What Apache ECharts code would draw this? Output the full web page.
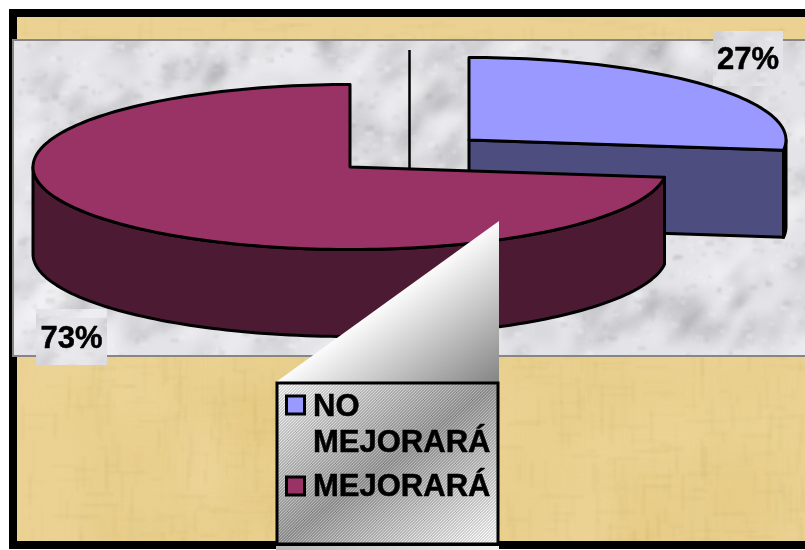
<!DOCTYPE html>
<html>
<head>
<meta charset="utf-8">
<style>html,body{margin:0;padding:0;background:#fff}#chart{width:805px;height:550px}</style>
<script src="https://cdn.jsdelivr.net/npm/echarts@6/dist/echarts.min.js"></script>
</head>
<body>
<div id="chart"></div>
<script>
// datos
const categories = ['NO MEJORARÁ', 'MEJORARÁ'];
const percentValues = [27, 73];
const topColors = ['#9999ff', '#993366'];
const sideColors = ['#4d4d80', '#4d1a33'];

// geometria del pastel 3D
const sliceCenters = [[469, 140], [350, 167]];
const labelBoxes = [[713, 31, 70, 55], [36, 309, 71, 56]];
const rx = 317, ry = 82.5, depth = 87;
const fontName = '"Liberation Sans", Arial, sans-serif';

// generador fijo, solo para las texturas de fondo
let seed = 12345;
function rnd() {
    seed = (seed * 16807) % 2147483647;
    return seed / 2147483647;
}

function makeMarble(w, h) {
    const c = document.createElement('canvas');
    c.width = w; c.height = h;
    const ctx = c.getContext('2d');
    ctx.fillStyle = '#e4e4e8';
    ctx.fillRect(0, 0, w, h);
    ctx.lineCap = 'round';
    // manchas grises agrupadas
    ctx.filter = 'blur(5px)';
    for (let k = 0; k < 190; k++) {
        const cx = rnd() * w, cy = rnd() * h;
        const count = 2 + Math.floor(rnd() * 5);
        for (let i = 0; i < count; i++) {
            const x = cx + (rnd() - 0.5) * 50, y = cy + (rnd() - 0.5) * 30;
            const len = 6 + rnd() * 30;
            const ang = -0.4 - rnd() * 1.0;
            const g = 130 + Math.floor(rnd() * 60);
            ctx.strokeStyle = 'rgba(' + g + ',' + g + ',' + (g + 3) + ',' + (0.12 + rnd() * 0.3) + ')';
            ctx.lineWidth = 3 + rnd() * 6;
            ctx.beginPath();
            ctx.moveTo(x, y);
            ctx.lineTo(x + Math.cos(ang) * len, y + Math.sin(ang) * len);
            ctx.stroke();
        }
    }
    // zonas claras
    ctx.filter = 'blur(6px)';
    for (let i = 0; i < 120; i++) {
        ctx.fillStyle = 'rgba(246,246,248,' + (0.3 + rnd() * 0.4) + ')';
        ctx.beginPath();
        ctx.ellipse(rnd() * w, rnd() * h, 10 + rnd() * 26, 4 + rnd() * 10, -0.8, 0, Math.PI * 2);
        ctx.fill();
    }
    // granulado fino
    ctx.filter = 'blur(1px)';
    for (let i = 0; i < 1400; i++) {
        const v = rnd() > 0.5 ? 250 : 170;
        ctx.fillStyle = 'rgba(' + v + ',' + v + ',' + v + ',' + (0.1 + rnd() * 0.22) + ')';
        ctx.fillRect(rnd() * w, rnd() * h, 2 + rnd() * 7, 2 + rnd() * 4);
    }
    ctx.filter = 'none';
    return c;
}

function makePaper(w, h) {
    const c = document.createElement('canvas');
    c.width = w; c.height = h;
    const ctx = c.getContext('2d');
    ctx.fillStyle = '#ebd293';
    ctx.fillRect(0, 0, w, h);
    ctx.filter = 'blur(12px)';
    for (let i = 0; i < 120; i++) {
        ctx.fillStyle = rnd() > 0.5 ? 'rgba(240,214,155,0.25)' : 'rgba(228,202,130,0.3)';
        ctx.fillRect(rnd() * w, rnd() * h, 30 + rnd() * 70, 30 + rnd() * 70);
    }
    ctx.filter = 'blur(1px)';
    for (let i = 0; i < 1500; i++) {
        const vert = rnd() > 0.45;
        const x = rnd() * w, y = rnd() * h, len = 6 + rnd() * 35;
        ctx.fillStyle = 'rgba(195,170,100,' + (0.05 + rnd() * 0.12) + ')';
        if (vert) ctx.fillRect(x, y, 2, len);
        else ctx.fillRect(x, y, len, 2);
    }
    ctx.filter = 'none';
    return c;
}

// degradado tramado de la caja de la leyenda
function makeLegendFill(w, h) {
    const c = document.createElement('canvas');
    c.width = w; c.height = h;
    const ctx = c.getContext('2d');
    const img = ctx.createImageData(w, h);
    for (let y = 0; y < h; y++) {
        for (let x = 0; x < w; x++) {
            const t = (x / w + y / h) / 2;
            let v = t < 0.5 ? 232 - (t / 0.5) * 82 : 150 + ((t - 0.5) / 0.5) * 90;
            v += (x + y) % 3 === 0 ? 26 : -13;
            const k = (y * w + x) * 4;
            img.data[k] = img.data[k + 1] = img.data[k + 2] = v;
            img.data[k + 3] = 255;
        }
    }
    ctx.putImageData(img, 0, 0);
    return c;
}

const marble = makeMarble(793, 318);
const paper = makePaper(788, 524);
const legendFill = makeLegendFill(223, 162);

function arcPoints(cx, cy, from, to) {
    const pts = [];
    const n = Math.max(2, Math.ceil(Math.abs(to - from) / 1.5));
    for (let i = 0; i <= n; i++) {
        const a = (from + (to - from) * i / n) * Math.PI / 180;
        pts.push([cx + rx * Math.sin(a), cy - ry * Math.cos(a)]);
    }
    return pts;
}

const total = percentValues.reduce((a, b) => a + b, 0);

function renderSlice(index) {
    return function (params, api) {
        const value = api.value(0);
        let start = 0;
        for (let i = 0; i < index; i++) start += percentValues[i] / total * 360;
        const end = start + value / total * 360;
        const [cx, cy] = sliceCenters[index];
        const line = { stroke: '#000', lineWidth: 3, lineJoin: 'round' };
        const side = Object.assign({ fill: sideColors[index] }, line);
        const children = [];

        const edge = function (deg) {
            const p = arcPoints(cx, cy, deg, deg)[0];
            children.push({
                type: 'polygon',
                shape: { points: [[cx, cy], p, [p[0], p[1] + depth], [cx, cy + depth]] },
                style: side
            });
        };
        if (end < 180) edge(end);
        if (start > 180) edge(start);

        // pared exterior, solo la mitad delantera
        const wallFrom = Math.max(start, 90), wallTo = Math.min(end, 270);
        if (wallTo > wallFrom) {
            const top = arcPoints(cx, cy, wallFrom, wallTo);
            const bottom = top.map(p => [p[0], p[1] + depth]).reverse();
            children.push({ type: 'polygon', shape: { points: top.concat(bottom) }, style: side });
        }

        children.push({
            type: 'polygon',
            shape: { points: [[cx, cy]].concat(arcPoints(cx, cy, start, end)) },
            style: Object.assign({ fill: topColors[index] }, line)
        });

        const box = labelBoxes[index];
        children.push({
            type: 'rect',
            shape: { x: box[0], y: box[1], width: box[2], height: box[3] },
            style: { fill: { image: marble, repeat: 'repeat' } }
        });
        children.push({
            type: 'text',
            style: {
                x: box[0] + box[2] / 2, y: box[1] + box[3] / 2 + 2,
                text: value + '%',
                font: 'bold 31px ' + fontName,
                fill: '#000', stroke: '#000', lineWidth: 0.5,
                align: 'center', verticalAlign: 'middle'
            }
        });
        return { type: 'group', children: children };
    };
}

// leyenda: la primera categoria va en dos lineas
const legendTexts = [];
const legendSwatches = [];
const swatchY = [396, 477];
const lineCenters = [[407.5, 443.5], [487.5]];
categories.forEach((name, i) => {
    const lines = lineCenters[i].length > 1 ? name.split(' ') : [name];
    lines.forEach((txt, j) => {
        legendTexts.push({
            type: 'text', z: 12, silent: true,
            style: {
                x: 313, y: lineCenters[i][j], text: txt,
                font: 'bold 31px ' + fontName, fill: '#000', stroke: '#000', lineWidth: 0.5,
                align: 'left', verticalAlign: 'middle'
            }
        });
    });
    legendSwatches.push({
        type: 'rect', z: 12, silent: true,
        shape: { x: 286.5, y: swatchY[i], width: 18, height: 18 },
        style: { fill: topColors[i], stroke: '#000', lineWidth: 3 }
    });
});

const chart = echarts.init(document.getElementById('chart'), null, { renderer: 'canvas' });
chart.setOption({
    animation: false,
    backgroundColor: '#fff',
    graphic: { elements: [
        { type: 'rect', z: 0, silent: true, shape: { x: 9, y: 9, width: 796, height: 540 }, style: { fill: '#000' } },
        { type: 'image', z: 0, silent: true, style: { image: paper, x: 17, y: 17, width: 788, height: 524 } },
        { type: 'image', z: 0, silent: true, style: { image: marble, x: 12, y: 39, width: 793, height: 318 } },
        { type: 'rect', z: 0, silent: true, shape: { x: 13, y: 40, width: 800, height: 316 }, style: { fill: 'none', stroke: '#868686', lineWidth: 2 } },
        { type: 'line', z: 0, silent: true, shape: { x1: 409.5, y1: 50, x2: 409.5, y2: 170 }, style: { stroke: '#000', lineWidth: 2.5 } },
        // cara superior de la caja de leyenda
        { type: 'polygon', z: 10, silent: true,
          shape: { points: [[276, 382], [499, 221], [499, 382]] },
          style: { fill: { type: 'linear', global: true, x: 388, y: 301, x2: 464, y2: 406,
              colorStops: [{ offset: 0, color: '#fbfbfb' }, { offset: 1, color: '#858585' }] } } },
        { type: 'rect', z: 10, silent: true, shape: { x: 276, y: 546, width: 223, height: 4 },
          style: { fill: { type: 'linear', x: 0, y: 0, x2: 1, y2: 0,
              colorStops: [{ offset: 0, color: '#b8b8b8' }, { offset: 1, color: '#f2f2f2' }] } } },
        { type: 'image', z: 11, silent: true, style: { image: legendFill, x: 276, y: 382, width: 223, height: 162 } },
        { type: 'rect', z: 11, silent: true, shape: { x: 277, y: 383, width: 221, height: 161 },
          style: { fill: 'none', stroke: '#000', lineWidth: 3 } }
    ].concat(legendSwatches, legendTexts) },
    series: categories.map((name, i) => ({
        type: 'custom',
        name: name,
        coordinateSystem: 'none',
        silent: true,
        z: 2 + i,
        data: [[percentValues[i]]],
        renderItem: renderSlice(i)
    }))
});
</script>
</body>
</html>
